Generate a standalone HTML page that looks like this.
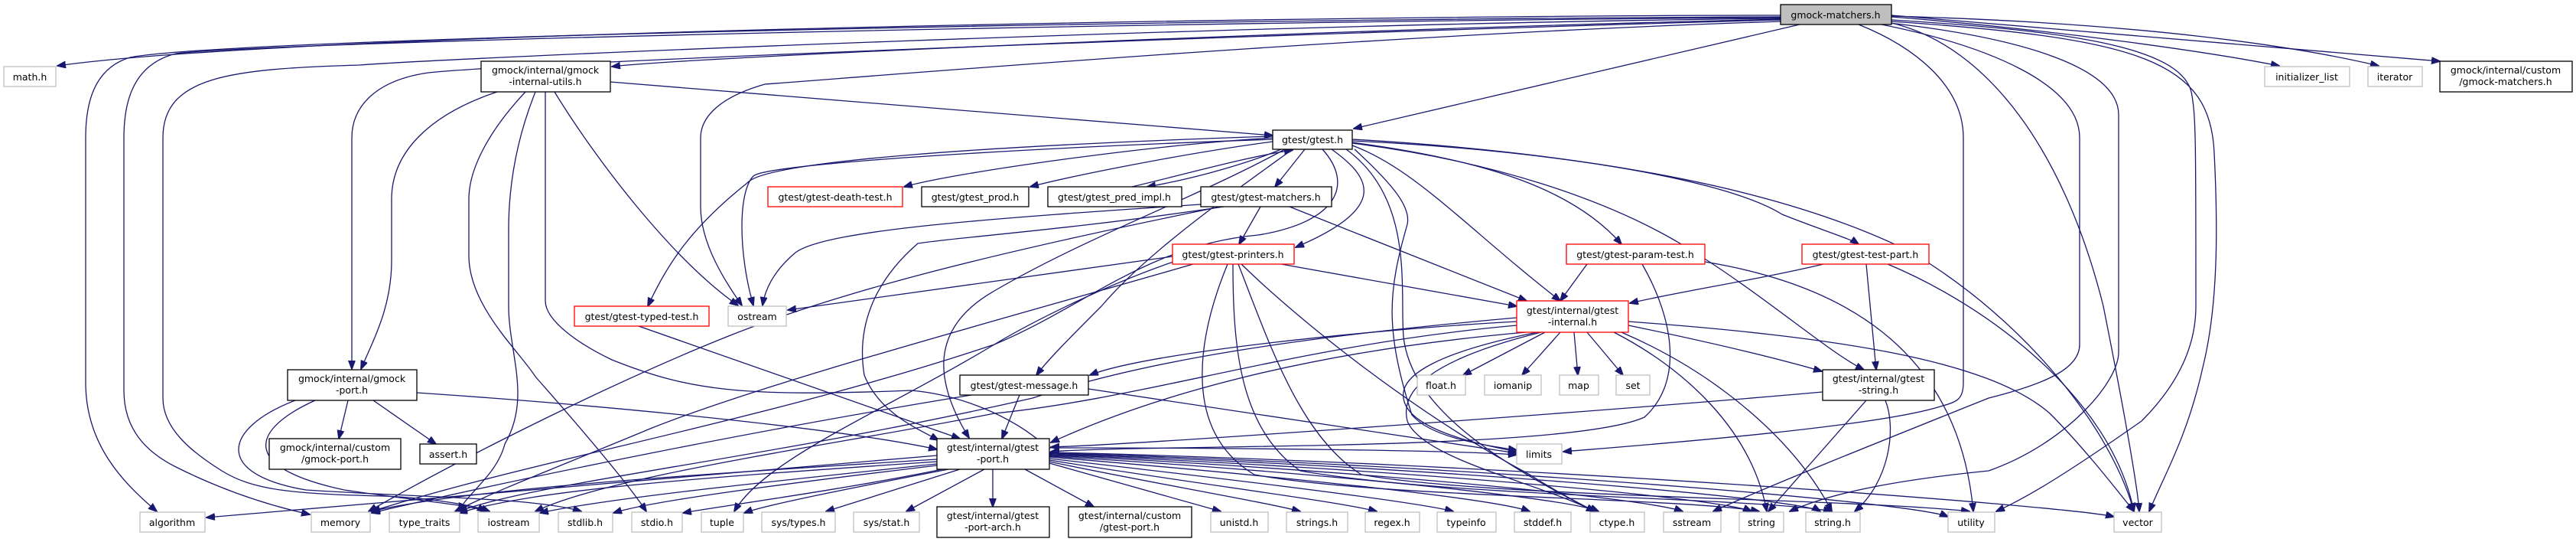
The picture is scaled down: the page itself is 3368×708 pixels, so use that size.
<!DOCTYPE html>
<html><head><meta charset="utf-8"><style>
html,body{margin:0;padding:0;background:#fff;width:3368px;height:708px;overflow:hidden}
svg text{font-family:"DejaVu Sans","Liberation Sans",sans-serif;font-size:12.5px;fill:#000;text-anchor:middle}
.e{fill:none;stroke:#191970;stroke-width:1.3;marker-end:url(#a)}
.n{fill:#fff;stroke:#000;stroke-width:1.3}
.g{fill:#fff;stroke:#bfbfbf;stroke-width:1.3}
.r{fill:#fff;stroke:#ff0000;stroke-width:1.3}
</style></head><body>
<svg width="3368" height="708" viewBox="0 0 3368 708" xmlns="http://www.w3.org/2000/svg">
<defs><marker id="a" markerUnits="userSpaceOnUse" markerWidth="12" markerHeight="10" refX="11" refY="4.5" orient="auto"><path d="M0,0 L12,4.5 L0,9 z" fill="#191970" stroke="#191970"/></marker></defs>
<g>
<path class="e" d="M2328,20 C1800,20 400,40 75,86"/>
<path class="e" d="M2328,22 C1500,25 300,50 170,75 C120,90 112,140 112,180 L112,500 C112,580 160,630 205,668"/>
<path class="e" d="M2328,23 C1500,28 350,55 230,70 C170,85 162,140 162,180 L162,510 C162,560 190,590 230,610 C290,640 350,660 405,672"/>
<path class="e" d="M2328,24 C1600,32 600,75 470,85 C300,90 213,100 213,180 L213,520 C213,560 250,590 290,615 C330,640 380,645 500,648 C560,650 620,660 640,668"/>
<path class="e" d="M2328,25 C1700,40 900,75 800,87"/>
<path class="e" d="M2328,26 C1800,40 700,80 560,95 C490,105 460,140 460,180 L460,482"/>
<path class="e" d="M2328,28 C1800,45 1200,95 1000,110 C930,130 916,160 916,180 L916,270 C916,320 950,370 970,399"/>
<path class="e" d="M2353,32 L1770,168"/>
<path class="e" d="M2430,32 C2500,60 2567,110 2567,180 L2567,500 C2567,520 2560,525 2540,530 C2450,560 2100,585 2044,590"/>
<path class="e" d="M2460,32 C2600,60 2719,110 2719,180 L2719,450 C2719,480 2680,500 2600,520 C2450,580 2300,640 2240,668"/>
<path class="e" d="M2470,30 C2650,50 2770,90 2770,150 L2770,460 C2770,500 2700,580 2600,615 C2450,630 2380,650 2340,668"/>
<path class="e" d="M2473,26 C2700,40 2850,60 2865,120 C2871,150 2871,180 2871,400 C2871,450 2850,500 2800,550 C2700,620 2650,650 2610,668"/>
<path class="e" d="M2473,28 C2800,50 2890,80 2895,200 C2900,300 2900,400 2880,480 C2860,570 2830,620 2810,668"/>
<path class="e" d="M2473,30 C2600,60 2700,200 2750,400 C2780,550 2795,640 2797,668"/>
<path class="e" d="M2473,22 C2700,40 2900,70 2980,86"/>
<path class="e" d="M2473,21 C2800,30 3000,60 3110,86"/>
<path class="e" d="M2473,20 L3190,80"/>
<path class="e" d="M798,107 L1664,177"/>
<path class="e" d="M650,120 C560,150 512,200 512,260 L512,340 C512,400 490,440 472,482"/>
<path class="e" d="M725,120 C780,210 880,340 965,399"/>
<path class="e" d="M687,120 C640,170 613,220 613,260 L613,334 C613,400 680,460 700,492 C760,560 820,630 845,668"/>
<path class="e" d="M700,120 C680,170 665,230 665,300 L665,400 C665,460 695,520 660,580 C650,620 610,645 600,668"/>
<path class="e" d="M713,120 L713,393 C713,420 760,451 800,470 C900,510 968,519 1191,510 C1250,515 1320,540 1370,585"/>
<path class="e" d="M1664,180 C1500,190 1250,225 1182,244"/>
<path class="e" d="M1664,185 C1550,200 1400,230 1347,244"/>
<path class="e" d="M1675,195 C1640,210 1570,232 1500,244"/>
<path class="e" d="M1480,244 C1560,225 1630,205 1690,196"/>
<path class="e" d="M1706,195 L1667,244"/>
<path class="e" d="M1741,195 C1790,230 1820,270 1694,323"/>
<path class="e" d="M1664,178 C1300,190 1000,210 977,239 C900,300 870,350 847,400"/>
<path class="e" d="M1664,182 C1300,195 1000,215 985,230 C965,250 965,330 985,399"/>
<path class="e" d="M1729,195 C1770,240 1750,290 1645,307 C1500,320 1420,400 1300,450 C1000,550 700,600 486,668"/>
<path class="e" d="M1768,190 C1850,220 1920,300 2040,393"/>
<path class="e" d="M1768,186 C1950,210 2060,250 2120,319"/>
<path class="e" d="M1768,182 C2000,195 2250,230 2330,280 C2380,300 2420,312 2430,319"/>
<path class="e" d="M1768,187 C1950,210 2100,260 2200,320 C2300,380 2390,460 2437,483"/>
<path class="e" d="M1768,184 C2000,195 2300,230 2500,330 C2650,420 2760,560 2790,668"/>
<path class="e" d="M1771,195 C1820,240 1845,270 1840,293 C1815,380 1810,429 1846,542 C1870,570 1930,580 1983,588"/>
<path class="e" d="M1760,195 C1850,260 1830,380 1835,440 C1845,530 1950,600 2085,668"/>
<path class="e" d="M1690,195 C1600,260 1500,330 1440,400 C1400,440 1370,470 1355,490"/>
<path class="e" d="M1680,195 C1560,260 1420,310 1300,380 C1230,420 1210,480 1267,572"/>
<path class="e" d="M1648,270 L1620,319"/>
<path class="e" d="M1686,270 L1996,393"/>
<path class="e" d="M1570,267 C1300,285 1080,300 1040,330 C1010,355 1000,380 997,399"/>
<path class="e" d="M1600,270 C1400,300 1250,310 1200,318 C1140,370 1120,430 1130,490 C1150,540 1200,560 1227,575"/>
<path class="e" d="M1596,270 C1300,330 1100,380 950,440 C800,500 600,600 482,668"/>
<path class="e" d="M1533,335 L1030,405"/>
<path class="e" d="M1675,345 L1983,400"/>
<path class="e" d="M1540,340 C1450,370 1350,420 1300,450 C1150,540 1000,600 960,668"/>
<path class="e" d="M1560,345 C1300,420 1000,500 850,560 C730,610 650,640 595,668"/>
<path class="e" d="M1605,345 C1570,430 1540,560 1640,620 C1800,650 2200,650 2300,668"/>
<path class="e" d="M1612,345 C1612,450 1620,560 1700,615 C1900,650 2300,650 2395,668"/>
<path class="e" d="M1619,345 C1660,450 1700,570 1780,620 C1950,650 2400,650 2575,668"/>
<path class="e" d="M1623,345 C1700,420 1850,540 2000,620 C2040,645 2060,655 2085,668"/>
<path class="e" d="M2075,345 L2040,393"/>
<path class="e" d="M2229,342 C2400,370 2560,450 2580,668"/>
<path class="e" d="M2147,345 C2190,420 2200,500 2150,545 C2050,590 1500,580 1374,590"/>
<path class="e" d="M2384,345 C2300,365 2200,380 2131,396"/>
<path class="e" d="M2440,345 L2453,483"/>
<path class="e" d="M2468,345 C2600,400 2760,520 2790,668"/>
<path class="e" d="M1983,420 C1800,430 1500,460 1425,490"/>
<path class="e" d="M2020,434 L1913,490"/>
<path class="e" d="M2040,434 L1990,490"/>
<path class="e" d="M2058,434 L2063,490"/>
<path class="e" d="M2075,434 L2122,490"/>
<path class="e" d="M2129,425 C2250,450 2330,470 2382,485"/>
<path class="e" d="M2010,434 C1880,460 1830,490 1835,520 C1840,560 1930,580 1983,590"/>
<path class="e" d="M2129,420 C2400,440 2600,470 2680,540 C2720,580 2760,630 2790,668"/>
<path class="e" d="M2110,434 C2200,480 2290,560 2310,668"/>
<path class="e" d="M2120,434 C2250,490 2350,580 2395,668"/>
<path class="e" d="M1995,434 C1700,460 1500,520 1374,578"/>
<path class="e" d="M1983,415 C1700,440 1500,470 1350,520 C1000,600 700,630 600,668"/>
<path class="e" d="M1983,425 C1700,450 1500,520 1300,540 C1100,580 800,620 700,668"/>
<path class="e" d="M2015,434 C1870,470 1830,510 1840,550 C1860,600 2010,630 2085,668"/>
<path class="e" d="M1225,595 L270,676"/>
<path class="e" d="M1225,600 C900,620 600,640 486,668"/>
<path class="e" d="M1225,603 C900,625 700,640 600,670"/>
<path class="e" d="M1225,606 C1000,630 800,650 706,670"/>
<path class="e" d="M1225,608 C1000,635 850,655 802,670"/>
<path class="e" d="M1232,613 C1100,640 950,660 893,670"/>
<path class="e" d="M1240,613 C1100,640 1000,660 973,670"/>
<path class="e" d="M1255,613 L1080,668"/>
<path class="e" d="M1287,613 L1185,668"/>
<path class="e" d="M1298,613 L1298,662"/>
<path class="e" d="M1340,613 L1430,662"/>
<path class="e" d="M1372,605 L1596,668"/>
<path class="e" d="M1372,603 C1500,630 1650,655 1700,668"/>
<path class="e" d="M1372,601 C1550,630 1750,655 1800,668"/>
<path class="e" d="M1372,599 C1600,625 1850,655 1900,668"/>
<path class="e" d="M1372,597 C1650,620 1950,650 2000,668"/>
<path class="e" d="M1372,596 C1700,615 2050,650 2090,668"/>
<path class="e" d="M1372,595 C1750,612 2150,650 2200,668"/>
<path class="e" d="M1372,594 C1800,610 2250,650 2290,668"/>
<path class="e" d="M1372,593 C1850,608 2350,650 2380,668"/>
<path class="e" d="M1372,592 C1900,606 2500,655 2547,675"/>
<path class="e" d="M1372,591 C1950,604 2700,660 2764,675"/>
<path class="e" d="M1372,585 C1600,585 1900,588 1983,594"/>
<path class="e" d="M1333,516 L1310,573"/>
<path class="e" d="M1423,508 L1983,592"/>
<path class="e" d="M1270,516 C1000,560 700,620 486,670"/>
<path class="e" d="M2383,512 C2100,537 1500,580 1374,584"/>
<path class="e" d="M2440,523 L2312,668"/>
<path class="e" d="M2465,523 C2480,560 2470,630 2425,668"/>
<path class="e" d="M455,523 L443,573"/>
<path class="e" d="M488,523 L570,580"/>
<path class="e" d="M545,513 C800,530 1100,560 1225,587"/>
<path class="e" d="M386,523 C290,560 280,620 400,640 C550,650 700,650 760,668"/>
<path class="e" d="M412,523 C330,560 310,610 450,640 C550,655 620,660 635,668"/>
<path class="e" d="M835,426 L1255,573"/>
</g>
<g>
<rect class="n" x="2328" y="6" width="145" height="26" style="fill:#bfbfbf"/><text x="2400" y="24">gmock-matchers.h</text>
<rect class="g" x="5" y="87" width="68" height="26"/><text x="39" y="105">math.h</text>
<rect class="n" x="629" y="80" width="169" height="40"/><text x="713" y="96">gmock/internal/gmock</text><text x="713" y="111">-internal-utils.h</text>
<rect class="g" x="2961" y="87" width="111" height="26"/><text x="3016" y="105">initializer_list</text>
<rect class="g" x="3096" y="87" width="71" height="26"/><text x="3131" y="105">iterator</text>
<rect class="n" x="3190" y="80" width="173" height="40"/><text x="3276" y="96">gmock/internal/custom</text><text x="3276" y="111">/gmock-matchers.h</text>
<rect class="n" x="1664" y="170" width="104" height="25"/><text x="1716" y="187">gtest/gtest.h</text>
<rect class="r" x="1004" y="244" width="176" height="26"/><text x="1092" y="262">gtest/gtest-death-test.h</text>
<rect class="n" x="1205" y="244" width="140" height="26"/><text x="1275" y="262">gtest/gtest_prod.h</text>
<rect class="n" x="1370" y="244" width="175" height="26"/><text x="1457" y="262">gtest/gtest_pred_impl.h</text>
<rect class="n" x="1570" y="244" width="171" height="26"/><text x="1655" y="262">gtest/gtest-matchers.h</text>
<rect class="r" x="1533" y="319" width="159" height="26"/><text x="1612" y="337">gtest/gtest-printers.h</text>
<rect class="r" x="2048" y="319" width="181" height="26"/><text x="2138" y="337">gtest/gtest-param-test.h</text>
<rect class="r" x="2356" y="319" width="166" height="26"/><text x="2439" y="337">gtest/gtest-test-part.h</text>
<rect class="r" x="751" y="400" width="176" height="26"/><text x="839" y="418">gtest/gtest-typed-test.h</text>
<rect class="g" x="952" y="400" width="76" height="26"/><text x="990" y="418">ostream</text>
<rect class="r" x="1983" y="393" width="146" height="41"/><text x="2056" y="410">gtest/internal/gtest</text><text x="2056" y="425">-internal.h</text>
<rect class="n" x="376" y="483" width="169" height="40"/><text x="460" y="499">gmock/internal/gmock</text><text x="460" y="514">-port.h</text>
<rect class="n" x="1255" y="490" width="168" height="26"/><text x="1339" y="508">gtest/gtest-message.h</text>
<rect class="g" x="1853" y="490" width="63" height="26"/><text x="1884" y="508">float.h</text>
<rect class="g" x="1941" y="490" width="74" height="26"/><text x="1978" y="508">iomanip</text>
<rect class="g" x="2039" y="490" width="51" height="26"/><text x="2064" y="508">map</text>
<rect class="g" x="2113" y="490" width="44" height="26"/><text x="2135" y="508">set</text>
<rect class="n" x="2383" y="483" width="146" height="40"/><text x="2456" y="499">gtest/internal/gtest</text><text x="2456" y="514">-string.h</text>
<rect class="n" x="352" y="573" width="172" height="40"/><text x="438" y="589">gmock/internal/custom</text><text x="438" y="604">/gmock-port.h</text>
<rect class="n" x="549" y="580" width="74" height="26"/><text x="586" y="598">assert.h</text>
<rect class="n" x="1225" y="573" width="147" height="40"/><text x="1298" y="589">gtest/internal/gtest</text><text x="1298" y="604">-port.h</text>
<rect class="g" x="1983" y="580" width="59" height="26"/><text x="2012" y="598">limits</text>
<rect class="g" x="183" y="669" width="85" height="26"/><text x="225" y="687">algorithm</text>
<rect class="g" x="407" y="669" width="77" height="26"/><text x="445" y="687">memory</text>
<rect class="g" x="509" y="669" width="92" height="26"/><text x="555" y="687">type_traits</text>
<rect class="g" x="625" y="669" width="80" height="26"/><text x="665" y="687">iostream</text>
<rect class="g" x="730" y="669" width="71" height="26"/><text x="765" y="687">stdlib.h</text>
<rect class="g" x="826" y="669" width="66" height="26"/><text x="859" y="687">stdio.h</text>
<rect class="g" x="917" y="669" width="55" height="26"/><text x="944" y="687">tuple</text>
<rect class="g" x="996" y="669" width="96" height="26"/><text x="1044" y="687">sys/types.h</text>
<rect class="g" x="1116" y="669" width="86" height="26"/><text x="1159" y="687">sys/stat.h</text>
<rect class="n" x="1225" y="662" width="147" height="40"/><text x="1298" y="678">gtest/internal/gtest</text><text x="1298" y="693">-port-arch.h</text>
<rect class="n" x="1397" y="662" width="161" height="40"/><text x="1477" y="678">gtest/internal/custom</text><text x="1477" y="693">/gtest-port.h</text>
<rect class="g" x="1583" y="669" width="75" height="26"/><text x="1620" y="687">unistd.h</text>
<rect class="g" x="1682" y="669" width="80" height="26"/><text x="1722" y="687">strings.h</text>
<rect class="g" x="1785" y="669" width="71" height="26"/><text x="1820" y="687">regex.h</text>
<rect class="g" x="1879" y="669" width="77" height="26"/><text x="1917" y="687">typeinfo</text>
<rect class="g" x="1980" y="669" width="74" height="26"/><text x="2017" y="687">stddef.h</text>
<rect class="g" x="2079" y="669" width="71" height="26"/><text x="2114" y="687">ctype.h</text>
<rect class="g" x="2175" y="669" width="75" height="26"/><text x="2212" y="687">sstream</text>
<rect class="g" x="2274" y="669" width="58" height="26"/><text x="2303" y="687">string</text>
<rect class="g" x="2361" y="669" width="71" height="26"/><text x="2396" y="687">string.h</text>
<rect class="g" x="2547" y="669" width="61" height="26"/><text x="2577" y="687">utility</text>
<rect class="g" x="2764" y="669" width="62" height="26"/><text x="2795" y="687">vector</text>
</g>
</svg>
</body></html>
